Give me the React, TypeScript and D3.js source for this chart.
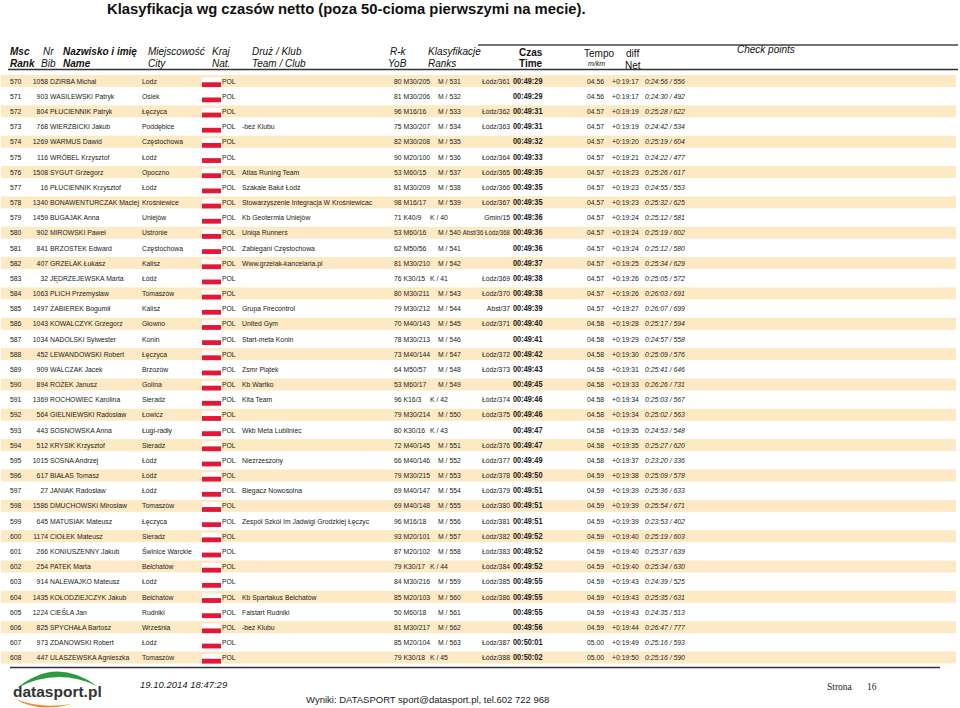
import React from "react";
import * as d3 from "d3";

const title = "Klasyfikacja wg czasów netto (poza 50-cioma pierwszymi na mecie).";

const ranks = [570,571,572,573,574,575,576,577,578,579,580,581,582,583,584,585,586,587,588,589,590,591,592,593,594,595,596,597,598,599,600,601,602,603,604,605,606,607,608];
const bibs = [1058,903,804,768,1269,116,1508,16,1340,1459,902,841,407,32,1063,1497,1043,1034,452,909,894,1369,564,443,512,1015,617,27,1586,645,1174,266,254,914,1435,1224,825,973,447];
const names = ["DZIRBA Michal","WASILEWSKI Patryk","PŁUCIENNIK Patryk","WIERZBICKI Jakub","WARMUS Dawid","WRÓBEL Krzysztof","SYGUT Grzegorz","PŁUCIENNIK Krzysztof","BONAWENTURCZAK Maciej","BUGAJAK Anna","MIROWSKI Paweł","BRZOSTEK Edward","GRZELAK Łukasz","JĘDRZEJEWSKA Marta","PLICH Przemysław","ŻABIEREK Bogumił","KOWALCZYK Grzegorz","NADOLSKI Sylwester","LEWANDOWSKI Robert","WALCZAK Jacek","ROŻEK Janusz","ROCHOWIEC Karolina","GIELNIEWSKI Radosław","SOSNOWSKA Anna","KRYSIK Krzysztof","SOSNA Andrzej","BIAŁAS Tomasz","JANIAK Radosław","DMUCHOWSKI Mirosław","MATUSIAK Mateusz","CIOŁEK Mateusz","KONIUSZENNY Jakub","PATEK Marta","NALEWAJKO Mateusz","KOŁODZIEJCZYK Jakub","CIEŚLA Jan","SPYCHAŁA Bartosz","ZDANOWSKI Robert","ULASZEWSKA Agnieszka"];
const cities = ["Lodz","Osiek","Łęczyca","Poddębice","Częstochowa","Łódź","Opoczno","Łódź","Krośniewice","Uniejów","Ustronie","Częstochowa","Kalisz","Łódź","Tomaszów","Kalisz","Głowno","Konin","Łęczyca","Brzozów","Golina","Sieradz","Łowicz","Ługi-radły","Sieradz","Łódź","Łódź","Łódź","Tomaszów","Łęczyca","Sieradz","Świnice Warckie","Bełchatów","Łódź","Bełchatów","Rudniki","Września","Łódź","Tomaszów"];
const clubs = ["","","","-bez Klubu","","","Atlas Runing Team","Szakale Bałut Łódź","Stowarzyszenie Integracja W Krośniewicac","Kb Geotermia Uniejów","Uniqa Runners","Zabiegani Częstochowa","Www.grzelak-kancelaria.pl","","","Grupa Firecontrol","United Gym","Start-meta Konin","","Zsmr Piątek","Kb Wartko","Kita Team","","Wkb Meta Lubliniec","","Niezrzeszony","","Biegacz Nowosolna","","Zespół Szkół Im Jadwigi Grodzkiej Łęczyc","","","","","Kb Spartakus Bełchatów","Falstart Rudniki","-bez Klubu","",""];
const yobCats = ["80 M30/205","81 M30/206","96 M16/16","75 M30/207","82 M30/208","90 M20/100","53 M60/15","81 M30/209","98 M16/17","71 K40/9","53 M60/16","62 M50/56","81 M30/210","76 K30/15","80 M30/211","79 M30/212","70 M40/143","78 M30/213","73 M40/144","64 M50/57","53 M60/17","96 K16/3","79 M30/214","80 K30/16","72 M40/145","66 M40/146","79 M30/215","69 M40/147","69 M40/148","96 M16/18","93 M20/101","87 M20/102","79 K30/17","84 M30/216","85 M20/103","50 M60/18","81 M30/217","85 M20/104","79 K30/18"];
const sexRanks = ["M / 531","M / 532","M / 533","M / 534","M / 535","M / 536","M / 537","M / 538","M / 539","K / 40","M / 540","M / 541","M / 542","K / 41","M / 543","M / 544","M / 545","M / 546","M / 547","M / 548","M / 549","K / 42","M / 550","K / 43","M / 551","M / 552","M / 553","M / 554","M / 555","M / 556","M / 557","M / 558","K / 44","M / 559","M / 560","M / 561","M / 562","M / 563","K / 45"];
const otherRanks = ["Łódz/361","","Łódz/362","Łódz/363","","Łódz/364","Łódz/365","Łódz/366","Łódz/367","Gmin/15","Abst/36 Łódz/368","","","Łódz/369","Łódz/370","Abst/37","Łódz/371","","Łódz/372","Łódz/373","","Łódz/374","Łódz/375","","Łódz/376","Łódz/377","Łódz/378","Łódz/379","Łódz/380","Łódz/381","Łódz/382","Łódz/383","Łódz/384","Łódz/385","Łódz/386","","","Łódz/387","Łódz/388"];
const times = ["00:49:29","00:49:29","00:49:31","00:49:31","00:49:32","00:49:33","00:49:35","00:49:35","00:49:35","00:49:36","00:49:36","00:49:36","00:49:37","00:49:38","00:49:38","00:49:39","00:49:40","00:49:41","00:49:42","00:49:43","00:49:45","00:49:46","00:49:46","00:49:47","00:49:47","00:49:49","00:49:50","00:49:51","00:49:51","00:49:51","00:49:52","00:49:52","00:49:52","00:49:55","00:49:55","00:49:55","00:49:56","00:50:01","00:50:02"];
const tempos = ["04.56","04.56","04.57","04.57","04.57","04.57","04.57","04.57","04.57","04.57","04.57","04.57","04.57","04.57","04.57","04.57","04.58","04.58","04.58","04.58","04.58","04.58","04.58","04.58","04.58","04.58","04.59","04.59","04.59","04.59","04.59","04.59","04.59","04.59","04.59","04.59","04.59","05.00","05.00"];
const diffs = ["+0:19:17","+0:19:17","+0:19:19","+0:19:19","+0:19:20","+0:19:21","+0:19:23","+0:19:23","+0:19:23","+0:19:24","+0:19:24","+0:19:24","+0:19:25","+0:19:26","+0:19:26","+0:19:27","+0:19:28","+0:19:29","+0:19:30","+0:19:31","+0:19:33","+0:19:34","+0:19:34","+0:19:35","+0:19:35","+0:19:37","+0:19:38","+0:19:39","+0:19:39","+0:19:39","+0:19:40","+0:19:40","+0:19:40","+0:19:43","+0:19:43","+0:19:43","+0:19:44","+0:19:49","+0:19:50"];
const splits = ["0:24:56 / 556","0:24:30 / 492","0:25:28 / 622","0:24:42 / 534","0:25:19 / 604","0:24:22 / 477","0:25:26 / 617","0:24:55 / 553","0:25:32 / 625","0:25:12 / 581","0:25:19 / 602","0:25:12 / 580","0:25:34 / 629","0:25:05 / 572","0:26:03 / 691","0:26:07 / 699","0:25:17 / 594","0:24:57 / 558","0:25:09 / 576","0:25:41 / 646","0:26:26 / 731","0:25:03 / 567","0:25:02 / 563","0:24:53 / 548","0:25:27 / 620","0:23:20 / 336","0:25:09 / 578","0:25:36 / 633","0:25:54 / 671","0:23:53 / 402","0:25:19 / 603","0:25:37 / 639","0:25:34 / 630","0:24:39 / 525","0:25:35 / 631","0:24:35 / 513","0:26:47 / 777","0:25:16 / 593","0:25:16 / 590"];

const FONT = "'Liberation Sans', Arial, sans-serif";
const TXT = "#222";

function T(props: any) {
  const { x, y, sx = 0.9, anchor = "start", size = 7.6, weight = "normal", italic = false, children, fill = TXT } = props;
  return (
    <text
      transform={`translate(${x},${y}) scale(${sx},1)`}
      textAnchor={anchor}
      fontSize={size}
      fontWeight={weight}
      fontStyle={italic ? "italic" : "normal"}
      fill={fill}
    >
      {children}
    </text>
  );
}

export default function App() {
  const W = 960, H = 708;
  const y = d3.scaleLinear().domain([0, ranks.length - 1]).range([81, 657.5]);

  return (
    <div style={{ position: "absolute", left: 0, top: 0 }}>
      <svg width={W} height={H} style={{ display: "block", fontFamily: FONT }}>
        <rect width={W} height={H} fill="#fff" />
        <text x={107} y={14} fontSize={14.8} fontWeight="bold" fill="#111">{title}</text>

        {/* header */}
        <line x1={478} x2={958} y1={45} y2={45} stroke="#444" strokeWidth={1.3} />
        <line x1={8} x2={958} y1={69.5} y2={69.5} stroke="#333" strokeWidth={1.5} />
        <g fontSize={10} fill="#111">
          <text x={10} y={55} fontWeight="bold" fontStyle="italic">Msc</text>
          <text x={10} y={67} fontWeight="bold" fontStyle="italic">Rank</text>
          <text x={43} y={55} fontStyle="italic">Nr</text>
          <text x={41} y={67} fontStyle="italic">Bib</text>
          <text x={63} y={55} fontWeight="bold" fontStyle="italic">Nazwisko i imię</text>
          <text x={63} y={67} fontWeight="bold" fontStyle="italic">Name</text>
          <text x={148} y={55} fontStyle="italic">Miejscowość</text>
          <text x={148} y={67} fontStyle="italic">City</text>
          <text x={212} y={55} fontStyle="italic">Kraj</text>
          <text x={212} y={67} fontStyle="italic">Nat.</text>
          <text x={252} y={55} fontStyle="italic">Druż / Klub</text>
          <text x={252} y={67} fontStyle="italic">Team / Club</text>
          <text x={390} y={55} fontStyle="italic">R-k</text>
          <text x={388} y={67} fontStyle="italic">YoB</text>
          <text x={428} y={55} fontStyle="italic">Klasyfikacje</text>
          <text x={428} y={67} fontStyle="italic">Ranks</text>
          <text x={519} y={56} fontWeight="bold">Czas</text>
          <text x={519} y={67} fontWeight="bold">Time</text>
          <text x={584} y={57}>Tempo</text>
          <text x={588} y={66} fontSize={7} fontStyle="italic">m/km</text>
          <text x={626} y={57}>diff</text>
          <text x={625} y={69}>Net</text>
          <text x={737} y={53} fontStyle="italic">Check points</text>
        </g>

        {/* rows */}
        {ranks.map((r, i) => {
          const cy = y(i);
          const by = cy + 2.7;
          const other = otherRanks[i];
          return (
            <g key={r}>
              {i % 2 === 0 && <rect x={1} y={cy - 6} width={955} height={12} fill="#FDEAC4" />}
              <rect x={202} y={cy - 3.5} width={19} height={4.8} fill="#fff" />
              <rect x={202} y={cy + 1.3} width={19} height={4.8} fill="#E31837" />
              <T x={10} y={by}>{String(r)}</T>
              <T x={48} y={by} anchor="end">{String(bibs[i])}</T>
              <T x={50} y={by}>{names[i]}</T>
              <T x={142} y={by}>{cities[i]}</T>
              <T x={222} y={by}>POL</T>
              <T x={242} y={by}>{clubs[i]}</T>
              <T x={394} y={by}>{yobCats[i]}</T>
              <T x={sexRanks[i][0] === "K" ? 430 : 438} y={by}>{sexRanks[i]}</T>
              <T x={510} y={by} anchor="end" sx={other.length > 10 ? 0.8 : 0.9}>{other}</T>
              <T x={513} y={by} size={8.2} weight="bold">{times[i]}</T>
              <T x={587} y={by}>{tempos[i]}</T>
              <T x={612} y={by}>{diffs[i]}</T>
              <T x={645} y={by} italic>{splits[i]}</T>
            </g>
          );
        })}
        <line x1={10} x2={940} y1={667.5} y2={667.5} stroke="#333" strokeWidth={1.5} />

        {/* footer */}
        <path d="M17,688 Q56,656 97,686 Q57,667 17,688 Z" fill="#2E9B3F" />
        <path d="M15,699 Q38,713 72,704 Q40,709 15,699 Z" fill="#F0892A" />
        <text x={13} y={697} fontSize={15.5} fontWeight="bold" fill="#333">datasport.pl</text>
        <text x={140} y={688} fontSize={9.5} fontStyle="italic" fill="#222">19.10.2014 18:47:29</text>
        <text x={306} y={703} fontSize={9.5} fill="#222">Wyniki: DATASPORT sport@datasport.pl, tel.602 722 968</text>
        <text x={827} y={690} fontSize={9.5} fontFamily="'Liberation Serif', serif" fill="#222">Strona</text>
        <text x={867} y={690} fontSize={9.5} fontFamily="'Liberation Serif', serif" fill="#222">16</text>
      </svg>
    </div>
  );
}
